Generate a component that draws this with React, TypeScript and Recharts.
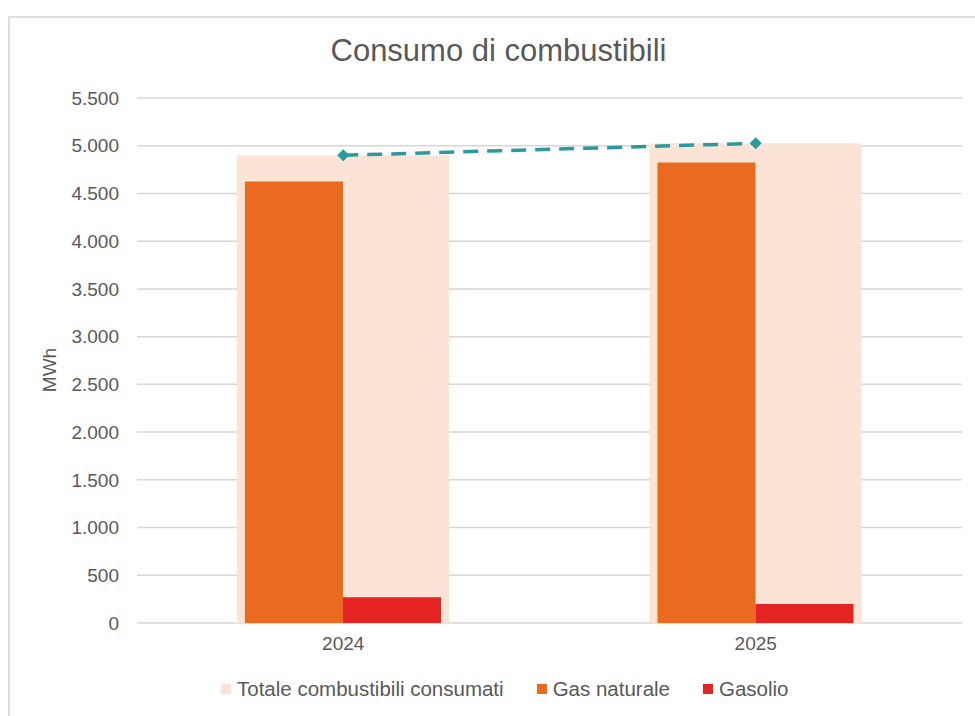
import React from "react";
import {
  ComposedChart,
  Bar,
  Line,
  XAxis,
  YAxis,
  CartesianGrid,
} from "recharts";

const years = ["2024", "2025"];
const totale = [4900, 5025];
const gasNaturale = [4625, 4825];
const gasolio = [270, 200];
const yTicks = [0, 500, 1000, 1500, 2000, 2500, 3000, 3500, 4000, 4500, 5000, 5500];

const seriesNames = ["Totale combustibili consumati", "Gas naturale", "Gasolio"];
const seriesColors = ["#FBE4D6", "#EA6A1F", "#E32423"];

const data = years.map((y, i) => ({
  year: y,
  totale: totale[i],
  gas: gasNaturale[i],
  gasolio: gasolio[i],
  linea: totale[i],
}));

const FONT = "'Liberation Sans', Arial, sans-serif";
const TEXT = "#595959";

const fmt = (v: number) => String(v).replace(/\B(?=(\d{3})+(?!\d))/g, ".");

const Diamond = (props: any) => {
  const { cx, cy, index } = props;
  if (cx == null || cy == null) return <g key={index} />;
  const r = 6;
  return (
    <path
      key={index}
      d={`M${cx} ${cy - r} L${cx + r} ${cy} L${cx} ${cy + r} L${cx - r} ${cy} Z`}
      fill="#2A9A9C"
    />
  );
};

export default function App() {
  return (
    <div
      style={{
        position: "fixed",
        left: 0,
        top: 0,
        width: 975,
        height: 716,
        background: "#fff",
        fontFamily: FONT,
        overflow: "hidden",
      }}
    >
      <div
        style={{
          position: "absolute",
          left: 8,
          top: 16,
          width: 980,
          height: 720,
          border: "2px solid #DEDEDE",
          boxSizing: "border-box",
        }}
      />
      <div
        style={{
          position: "absolute",
          left: 0,
          top: 33,
          width: 997,
          textAlign: "center",
          fontSize: 31,
          color: TEXT,
          lineHeight: "36px",
        }}
      >
        Consumo di combustibili
      </div>
      <div
        style={{
          position: "absolute",
          left: 50,
          top: 370,
          transform: "translate(-50%, -50%) rotate(-90deg)",
          fontSize: 19,
          color: TEXT,
          whiteSpace: "nowrap",
        }}
      >
        MWh
      </div>
      <div style={{ position: "absolute", left: 0, top: 0 }}>
        <ComposedChart
          width={975}
          height={716}
          data={data}
          margin={{ top: 98, right: 13, left: 0, bottom: 63 }}
          barGap={0}
        >
          <CartesianGrid vertical={false} stroke="#DDD4D4" strokeWidth={1.5} xAxisId="front" />
          <XAxis xAxisId="back" dataKey="year" hide height={0} />
          <XAxis
            xAxisId="front"
            dataKey="year"
            height={30}
            axisLine={false}
            tickLine={false}
            tickSize={0}
            tickMargin={14}
            tick={{ fill: TEXT, fontSize: 19, fontFamily: FONT }}
          />
          <YAxis
            width={137}
            domain={[0, 5500]}
            ticks={yTicks}
            axisLine={false}
            tickLine={false}
            tickSize={0}
            tickMargin={18}
            tickFormatter={fmt}
            tick={{ fill: TEXT, fontSize: 19, fontFamily: FONT }}
          />
          <Bar
            xAxisId="back"
            dataKey="totale"
            name={seriesNames[0]}
            fill={seriesColors[0]}
            barSize={212}
            isAnimationActive={false}
          />
          <Bar
            xAxisId="front"
            dataKey="gas"
            name={seriesNames[1]}
            fill={seriesColors[1]}
            barSize={98}
            isAnimationActive={false}
          />
          <Bar
            xAxisId="front"
            dataKey="gasolio"
            name={seriesNames[2]}
            fill={seriesColors[2]}
            barSize={98}
            isAnimationActive={false}
          />
          <Line
            xAxisId="front"
            dataKey="linea"
            stroke="#2A9A9C"
            strokeWidth={3.5}
            strokeDasharray="15 9"
            dot={Diamond}
            activeDot={false}
            isAnimationActive={false}
          />
        </ComposedChart>
      </div>
      <div
        style={{
          position: "absolute",
          left: 221,
          top: 677,
          display: "flex",
          alignItems: "center",
          fontSize: 20.5,
          color: TEXT,
          whiteSpace: "nowrap",
        }}
      >
        {seriesNames.map((n, i) => (
          <div
            key={n}
            style={{ display: "flex", alignItems: "center", marginRight: 33 }}
          >
            <span
              style={{
                width: 10,
                height: 10,
                background: seriesColors[i],
                display: "inline-block",
                marginRight: 6,
              }}
            />
            {n}
          </div>
        ))}
      </div>
    </div>
  );
}
